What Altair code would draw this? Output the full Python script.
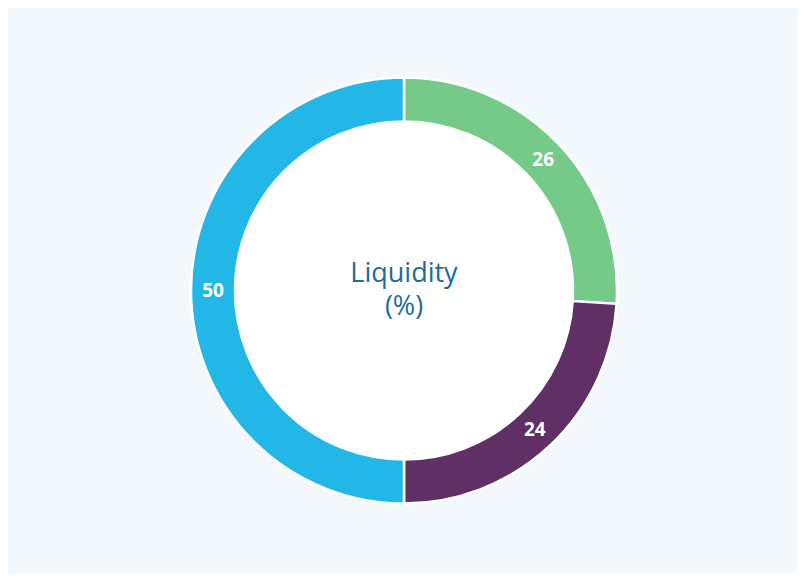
import altair as alt
import pandas as pd
import math

categories = ["A", "B", "C"]
values = [26, 24, 50]
colors = ["#75ca89", "#5f2f66", "#23b7e8"]
center_lines = ["Liquidity", "(%)"]
center_offsets = [-17, 16]

df = pd.DataFrame({"cat": categories, "value": values, "order": [0, 1, 2]})

CX, CY = 396, 282.5

base = alt.Chart(df).encode(
    theta=alt.Theta("value:Q", stack=True),
    order=alt.Order("order:Q"),
    x=alt.value(CX), y=alt.value(CY),
)

inner = alt.Chart(pd.DataFrame({"v": [1]})).mark_arc(
    radius=170, color="white"
).encode(
    theta=alt.value(0), theta2=alt.value(2 * math.pi),
    x=alt.value(CX), y=alt.value(CY)
)

arcs = base.mark_arc(
    outerRadius=213, innerRadius=169, stroke="white", strokeWidth=2.5
).encode(
    color=alt.Color("cat:N", scale=alt.Scale(domain=categories, range=colors), legend=None)
)

labels = base.mark_text(
    radius=191, color="white", fontSize=19, fontWeight="bold", font="Open Sans"
).encode(text=alt.Text("value:Q"))

center_layers = [
    alt.Chart(pd.DataFrame({"t": [line]})).mark_text(
        fontSize=27, color="#1c6c9d", font="Open Sans",
        baseline="middle", dy=off
    ).encode(text="t:N", x=alt.value(CX), y=alt.value(CY))
    for line, off in zip(center_lines, center_offsets)
]

chart = alt.layer(inner, arcs, labels, *center_layers).properties(
    width=790, height=565, background="#f3f8fc", padding=0,
    autosize=alt.AutoSizeParams(type="none")
).configure_view(stroke=None)

chart.save("out.html", embed_options={"renderer": "svg", "actions": False})
